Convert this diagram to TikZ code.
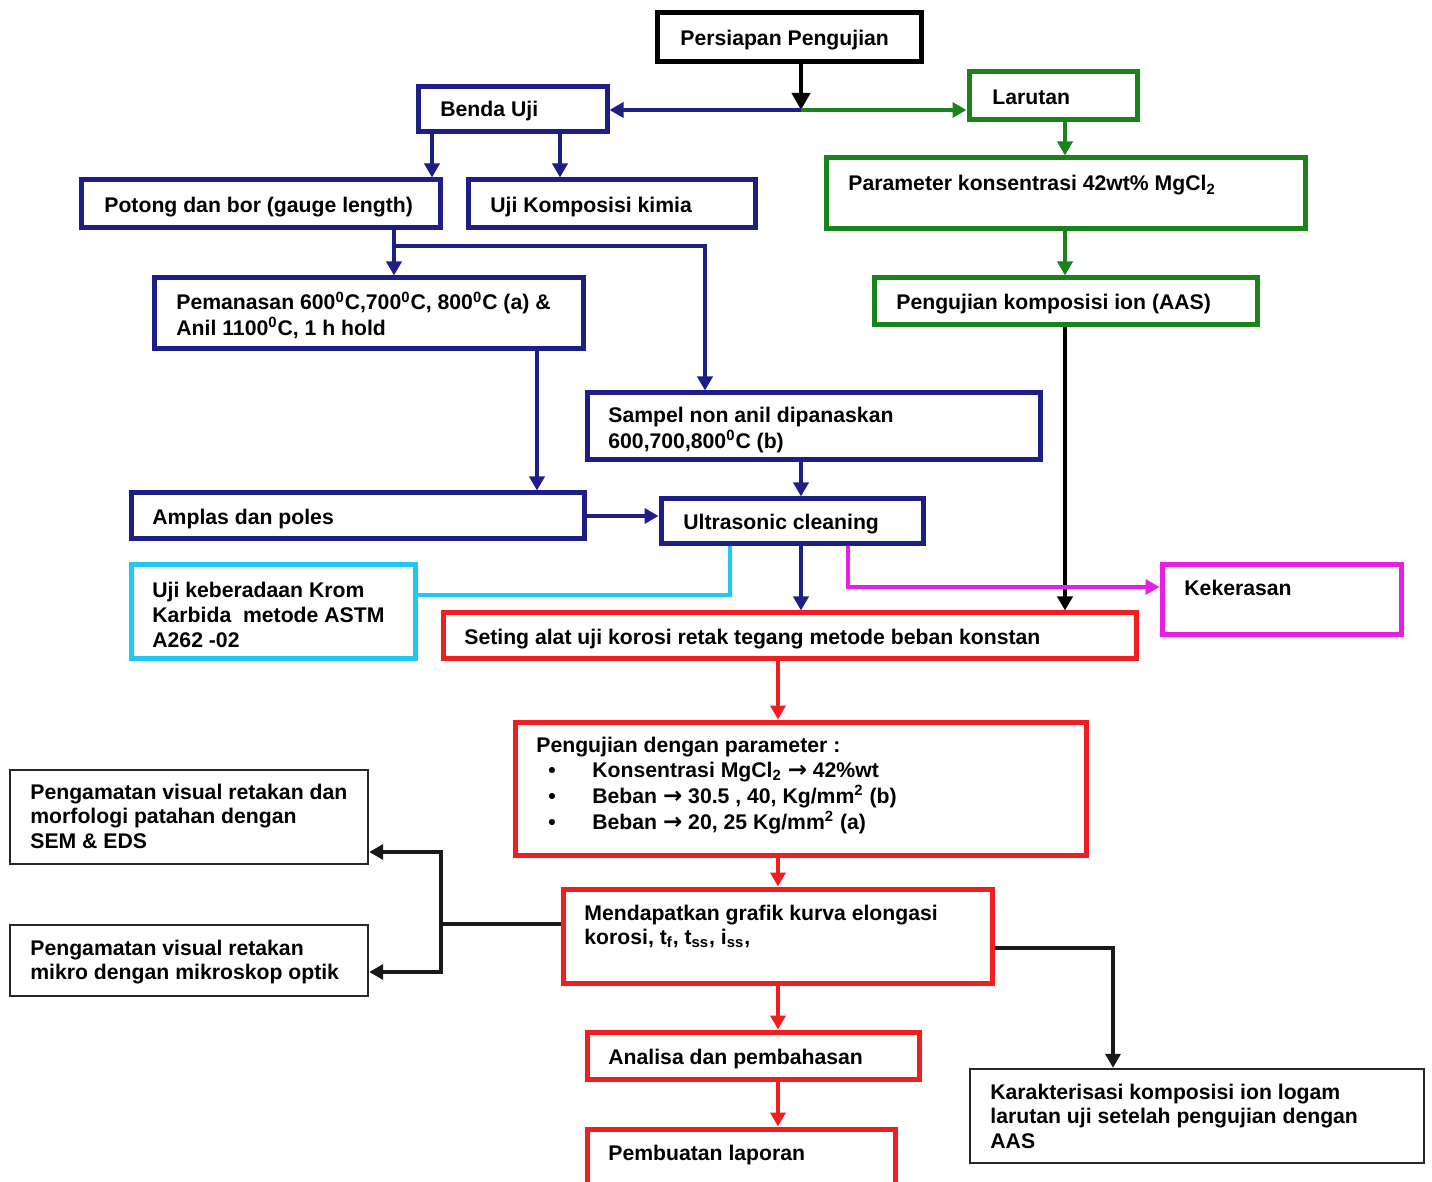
\documentclass[tikz,border=0pt]{standalone}
\usepackage{fontspec}
\setmainfont{Liberation Sans}
\newfontfamily\dejavu{DejaVu Sans}
\usetikzlibrary{arrows.meta,fit}
\definecolor{cnavy}{RGB}{30,30,135}
\definecolor{cgreen}{RGB}{25,130,25}
\definecolor{cred}{RGB}{240,30,30}
\definecolor{ccyan}{RGB}{30,200,240}
\definecolor{cmag}{RGB}{230,30,230}
\newcommand\ml[1]{\begin{tabular}[t]{@{}l@{}}#1\end{tabular}}
\newcommand\rarr{{\dejavu\bfseries\fontsize{11.5}{12}\selectfont →}}
\newcommand\dg{\textsuperscript{0}}
\newcommand\bul{\hspace*{6pt}\makebox[22pt][l]{\textbullet}}
\tikzset{
  bx/.style={draw, line width=2.5pt, inner sep=0pt, rectangle},
  thinbx/.style={draw=black!85, line width=1.2pt, inner sep=0pt, rectangle},
  txt/.style={font=\fontsize{10.6}{12.3}\selectfont\bfseries, inner sep=0pt, anchor=base west},
  con/.style={line width=2pt},
  conarrow/.style={con, -{Triangle[length=7pt,width=7.5pt]}},
}
\begin{document}
\begin{tikzpicture}[x=0.5pt,y=-0.5pt]
\path[use as bounding box, clip] (0,0) rectangle (1432,1182);
\fill[white] (0,0) rectangle (1432,1182);

% boxes
\node[bx, draw=black, fit={(657,13)(921,62)}] (persiapan) {};
\node[bx, draw=cnavy, fit={(418,87)(607,132)}] (benda) {};
\node[bx, draw=cgreen, fit={(969,72)(1137,120)}] (larutan) {};
\node[bx, draw=cnavy, fit={(81,180)(440,228)}] (potong) {};
\node[bx, draw=cnavy, fit={(468,180)(755,228)}] (ujikomp) {};
\node[bx, draw=cgreen, fit={(826,158)(1305,229)}] (param) {};
\node[bx, draw=cnavy, fit={(154,278)(583,349)}] (pemanasan) {};
\node[bx, draw=cgreen, fit={(874,278)(1257,325)}] (ion) {};
\node[bx, draw=cnavy, fit={(587,393)(1040,460)}] (sampel) {};
\node[bx, draw=cnavy, fit={(131,493)(584,539)}] (amplas) {};
\node[bx, draw=cnavy, fit={(661,499)(923,544)}] (ultra) {};
\node[bx, draw=ccyan, fit={(131,565)(415,659)}] (krom) {};
\node[bx, draw=cmag, fit={(1162,565)(1401,635)}] (keker) {};
\node[bx, draw=cred, fit={(443,613)(1136,659)}] (seting) {};
\node[bx, draw=cred, fit={(515,722)(1086,855)}] (uji) {};
\node[thinbx, fit={(10,770)(368,864)}] (sem) {};
\node[thinbx, fit={(10,925)(368,996)}] (optik) {};
\node[bx, draw=cred, fit={(563,889)(992,983)}] (mendap) {};
\node[bx, draw=cred, fit={(587,1032)(919,1079)}] (analisa) {};
\node[bx, draw=cred, fit={(587,1129)(895,1200)}] (laporan) {};
\node[thinbx, fit={(970,1069)(1424,1163)}] (karak) {};

% texts
\node[txt] (tpersiapan) at (680,46) {Persiapan Pengujian};
\node[txt] (tbenda) at (440,117) {Benda Uji};
\node[txt] (tlarutan) at (992,105) {Larutan};
\node[txt] (tpotong) at (104,213) {Potong dan bor (gauge length)};
\node[txt] (tujikomp) at (490,213) {Uji Komposisi kimia};
\node[txt] (tparam) at (848,191) {Parameter konsentrasi 42wt\% MgCl\textsubscript{2}};
\node[txt] (tpemanasan) at (176,310) {\ml{Pemanasan 600\dg C,700\dg C, 800\dg C (a) \&\\Anil 1100\dg C, 1 h hold}};
\node[txt] (tion) at (896,310) {Pengujian komposisi ion (AAS)};
\node[txt] (tsampel) at (608,423) {\ml{Sampel non anil dipanaskan\\600,700,800\dg C (b)}};
\node[txt] (tamplas) at (152,525) {Amplas dan poles};
\node[txt] (tultra) at (683,530) {Ultrasonic cleaning};
\node[txt] (tkrom) at (152,598) {\ml{Uji keberadaan Krom\\Karbida\ \ metode ASTM\\A262 -02}};
\node[txt] (tkeker) at (1184,596) {Kekerasan};
\node[txt] (tseting) at (464,645) {Seting alat uji korosi retak tegang metode beban konstan};
\node[txt, font=\fontsize{10.6}{12.75}\selectfont\bfseries] (tuji) at (536,752) {\ml{Pengujian dengan parameter :\\
\bul Konsentrasi MgCl\textsubscript{2} \rarr{} 42\%wt\\
\bul Beban \rarr{} 30.5 , 40, Kg/mm\textsuperscript{2} (b)\\
\bul Beban \rarr{} 20, 25 Kg/mm\textsuperscript{2} (a)}};
\node[txt] (tsem) at (30,799) {\ml{Pengamatan visual retakan dan\\morfologi patahan dengan\\SEM \& EDS}};
\node[txt] (toptik) at (30,955) {\ml{Pengamatan visual retakan\\mikro dengan mikroskop optik}};
\node[txt] (tmendap) at (584,920) {\ml{Mendapatkan grafik kurva elongasi\\korosi, t\textsubscript{f}, t\textsubscript{ss}, i\textsubscript{ss},}};
\node[txt] (tanalisa) at (608,1064) {Analisa dan pembahasan};
\node[txt] (tlaporan) at (608,1160) {Pembuatan laporan};
\node[txt] (tkarak) at (990,1099) {\ml{Karakterisasi komposisi ion logam\\larutan uji setelah pengujian dengan\\AAS}};

% junction coordinates
\coordinate (j1) at (801,110);
\coordinate (b1) at (394,246);
\coordinate (b2) at (705,246);
\coordinate (cy) at (730,595);
\coordinate (mg) at (848,587);
\coordinate (k) at (441,924);
\coordinate (kT) at (441,852);
\coordinate (kB) at (441,972);
\coordinate (r1) at (1113,948);
\coordinate (xa) at (432,0);
\coordinate (xb) at (560,0);
\coordinate (xg) at (1065,0);
\coordinate (xp) at (537,0);
\coordinate (xu) at (801,0);
\coordinate (xr) at (778,0);

% connectors
\draw[con, black, -{Triangle[length=8.5pt,width=9pt]}] (persiapan.south -| j1) -- (j1);
\draw[conarrow, cnavy] (j1) -- (benda.east |- j1);
\draw[conarrow, cgreen] (j1) -- (larutan.west |- j1);
\draw[conarrow, cnavy] (benda.south -| xa) -- (potong.north -| xa);
\draw[conarrow, cnavy] (benda.south -| xb) -- (ujikomp.north -| xb);
\draw[conarrow, cgreen] (larutan.south -| xg) -- (param.north -| xg);
\draw[conarrow, cgreen] (param.south -| xg) -- (ion.north -| xg);
\draw[conarrow, black] (ion.south -| xg) -- (seting.north -| xg);
\draw[conarrow, cnavy] (potong.south -| b1) -- (pemanasan.north -| b1);
\draw[conarrow, cnavy] (b1) -- (b2) -- (sampel.north -| b2);
\draw[conarrow, cnavy] (pemanasan.south -| xp) -- (amplas.north -| xp);
\draw[conarrow, cnavy] (amplas.east) -- (amplas.east -| ultra.west);
\draw[conarrow, cnavy] (sampel.south -| xu) -- (ultra.north -| xu);
\draw[conarrow, cnavy] (ultra.south -| xu) -- (seting.north -| xu);
\draw[con, ccyan] (ultra.south -| cy) -- (cy) -- (krom.east |- cy);
\draw[conarrow, cmag] (ultra.south -| mg) -- (mg) -- (keker.west |- mg);
\draw[conarrow, cred] (seting.south -| xr) -- (uji.north -| xr);
\draw[conarrow, cred] (uji.south -| xr) -- (mendap.north -| xr);
\draw[con, black!90] (mendap.west |- k) -- (k);
\draw[conarrow, black!90] (k) -- (kT) -- (sem.east |- kT);
\draw[conarrow, black!90] (k) -- (kB) -- (optik.east |- kB);
\draw[conarrow, black!90] (mendap.east |- r1) -- (r1) -- (karak.north -| r1);
\draw[conarrow, cred] (mendap.south -| xr) -- (analisa.north -| xr);
\draw[conarrow, cred] (analisa.south -| xr) -- (laporan.north -| xr);
\end{tikzpicture}
\end{document}
